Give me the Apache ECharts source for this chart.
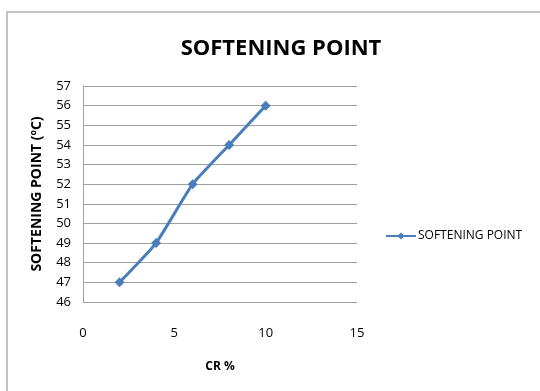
<!DOCTYPE html>
<html><head><meta charset="utf-8">
<script src="https://cdn.jsdelivr.net/npm/echarts@6/dist/echarts.min.js"></script>
<style>html,body{margin:0;padding:0;background:#fff}#c{width:540px;height:391px}</style>
</head><body><div id="c"></div>
<script>
const crPercent = [2, 4, 6, 8, 10];
const softeningPoint = [47, 49, 52, 54, 56];
const seriesName = 'SOFTENING POINT';
const xTicks = [0, 5, 10, 15];
const yTicks = [46, 47, 48, 49, 50, 51, 52, 53, 54, 55, 56, 57];

const chart = echarts.init(document.getElementById('c'));
const font = '"Open Sans", "Liberation Sans", sans-serif';
chart.setOption({
  animation: false,
  graphic: [{
    type: 'polyline', shape: { points: [[7, 400], [7, 12], [545, 12]] },
    style: { stroke: '#b0b0b0', lineWidth: 1.5, fill: null }
  }],
  title: {
    text: 'SOFTENING POINT', left: 276, top: 33, textAlign: 'center',
    textStyle: { fontFamily: font, fontWeight: 'bold', fontSize: 22, color: '#000' }
  },
  legend: {
    data: [seriesName], left: 380, top: 225, itemWidth: 30, itemHeight: 9, itemGap: 0,
    textStyle: { fontFamily: font, fontSize: 12, color: '#000', padding: [0, 0, 0, -3] }
  },
  grid: { left: 83, right: 183, top: 86, bottom: 89 },
  xAxis: {
    type: 'value', min: xTicks[0], max: xTicks[xTicks.length - 1], interval: 5,
    name: 'CR %', nameLocation: 'middle', nameGap: 59,
    nameTextStyle: { fontFamily: font, fontWeight: 'bold', fontSize: 12, color: '#000' },
    axisLine: { show: false }, axisTick: { show: false }, splitLine: { show: false },
    axisLabel: { margin: 25, fontFamily: font, fontSize: 13, color: '#000' }
  },
  yAxis: {
    type: 'value', min: yTicks[0], max: yTicks[yTicks.length - 1], interval: 1,
    name: 'SOFTENING POINT (ºC)', nameLocation: 'middle', nameGap: 39,
    nameTextStyle: { fontFamily: font, fontWeight: 'bold', fontSize: 14, color: '#000' },
    axisLine: { show: true, lineStyle: { color: '#a0a0a0', width: 1 } },
    axisTick: { show: false },
    splitLine: { lineStyle: { color: '#a0a0a0', width: 1 } },
    axisLabel: { margin: 12, fontFamily: font, fontSize: 13, color: '#000' }
  },
  series: [{
    name: seriesName, type: 'line', smooth: 0.15,
    data: crPercent.map((x, i) => [x, softeningPoint[i]]),
    symbol: 'diamond', symbolSize: 10,
    lineStyle: { color: '#4a7ebb', width: 3 },
    itemStyle: { color: '#4a7ebb' }
  }]
});
</script></body></html>
